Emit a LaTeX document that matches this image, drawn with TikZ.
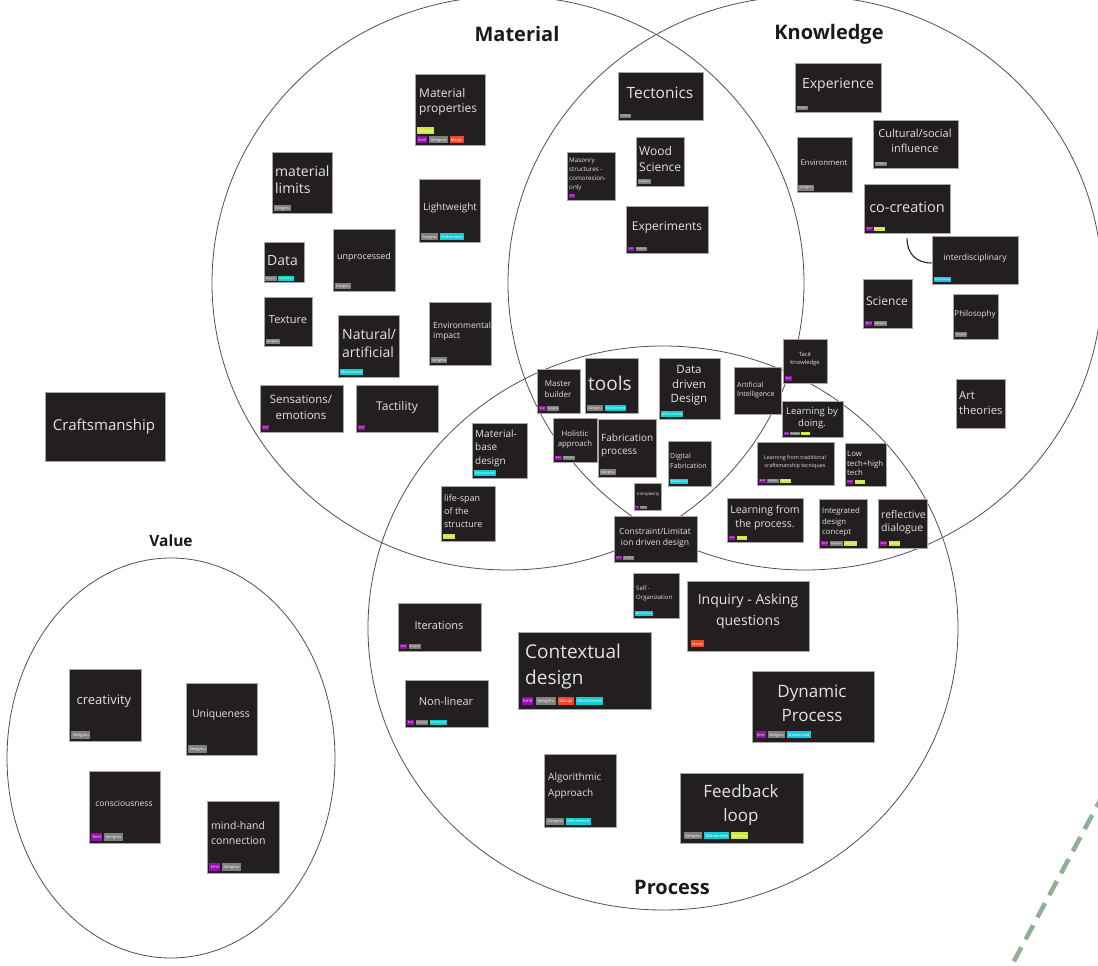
\documentclass[tikz,border=0pt]{standalone}
\usepackage{fontspec}
\setmainfont{Open Sans}
\usetikzlibrary{fit,calc}

\definecolor{notebg}{HTML}{231F20}
\definecolor{notefg}{HTML}{E3E3E3}
\definecolor{ringline}{HTML}{505050}
\definecolor{tgpurple}{HTML}{9510AC}
\definecolor{tggray}{HTML}{808080}
\definecolor{tgred}{HTML}{F24726}
\definecolor{tgcyan}{HTML}{12CDD4}
\definecolor{tglime}{HTML}{CEE741}
\definecolor{sage}{HTML}{8FB094}
\definecolor{titlefg}{HTML}{1A1A1A}

% author tags on the sticky notes
\newcommand\tg[2]{{\setlength{\fboxsep}{0pt}\colorbox{#1}{\rule[-0.5em]{0pt}{1.8em}\hspace{0.35em}\textcolor{white}{#2}\hspace{0.35em}}}\hspace{0.5em}}
\newcommand\tgEm{\tg{tgpurple}{Emil}}
\newcommand\tgGe{\tg{tggray}{Gengmu}}
\newcommand\tgMa{\tg{tgred}{Marija}}
\newcommand\tgMo{\tg{tgcyan}{Mohammed}}
\newcommand\tgSe{\tg{tglime}{Serenay}}

% sticky note: name, top-left, bottom-right
\newcommand\pnote[3]{\node[notebox, fit={#2 #3}] (#1) {};}
% note text: name, size, leading, style, position, text
\newcommand\ntxt[6]{\node[ntext, fs={#2}{#3}, #4] (#1-t) at #5 {#6};}
% tag row: name, size, margin, tags
\newcommand\ptags[4]{\node[tagrow, font=\fontsize{#2}{9}\selectfont] (#1-g) at ($(#1.south west)+(#3,-#3)$) {#4};}

\tikzset{
  notebox/.style={fill=notebg, draw=black!35, line width=0.6pt, inner sep=0pt},
  ntext/.style={text=notefg, inner sep=0pt, yshift=-1.3pt},
  fs/.style 2 args={font=\fontsize{#1}{#2}\selectfont},
  lt/.style={anchor=west, align=left},
  ct/.style={align=center},
  tagrow/.style={anchor=south west, inner sep=0pt, align=left},
  ring/.style={draw=ringline, line width=0.8pt},
  title/.style={text=titlefg, font=\bfseries\fontsize{20}{24}\selectfont},
  link/.style={draw=black!85, line width=1.1pt},
}

\begin{document}
\begin{tikzpicture}[x=1pt, y=-1pt]
\useasboundingbox (0,0) rectangle (1098,966);
\fill[white] (0,0) rectangle (1098,966);
\clip (0,0) rectangle (1098,966);

% the four fields
\draw[ring] (508,283) ellipse [x radius=296pt, y radius=287pt];
\draw[ring] (805,283) ellipse [x radius=297pt, y radius=287pt];
\draw[ring] (663,628) ellipse [x radius=295pt, y radius=282pt];
\draw[ring] (171,758) ellipse [x radius=164pt, y radius=200pt];

\node[title] (t-mat) at (517,34) {Material};
\node[title] (t-know) at (829,34) {Knowledge};
\node[title, font=\bfseries\fontsize{15.5}{18}\selectfont] (t-val) at (171,541) {Value};
\node[title] (t-proc) at (672,887) {Process};

% ---- Material
\pnote{matprop}{(415,74)}{(485,145)}
\ntxt{matprop}{12}{15.5}{lt}{(419,100.5)}{Material\\properties}
\ptags{matprop}{3.9}{2}{\tgSe\\\tgEm\tgGe\tgMa}

\pnote{matlim}{(272,152)}{(332,213)}
\ntxt{matlim}{14}{17}{lt}{(275,178.5)}{material\\limits}
\ptags{matlim}{3.6}{2}{\tgGe}

\pnote{light}{(419,179)}{(480,242)}
\ntxt{light}{10}{12}{ct}{(450,207)}{Lightweight}
\ptags{light}{3.7}{2}{\tgGe\tgMo}

\pnote{data}{(264,242)}{(304,282)}
\ntxt{data}{14}{17}{lt}{(267,259)}{Data}
\ptags{data}{2.5}{1.5}{\tgGe\tgMo}

\pnote{unproc}{(333,229)}{(395,291)}
\ntxt{unproc}{9}{11}{ct}{(364,256)}{unprocessed}
\ptags{unproc}{3.4}{2}{\tgGe}

\pnote{texture}{(264,297)}{(312,346)}
\ntxt{texture}{11}{13}{ct}{(288,318)}{Texture}
\ptags{texture}{3.0}{2}{\tgGe}

\pnote{natural}{(338,315)}{(399,377)}
\ntxt{natural}{14}{18}{lt}{(342,342)}{Natural/\\artificial}
\ptags{natural}{3.6}{2}{\tgMo}

\pnote{envimp}{(429,302)}{(491,365)}
\ntxt{envimp}{8.5}{10.5}{lt}{(433,330)}{Environmental\\impact}
\ptags{envimp}{3.5}{2}{\tgGe}

\pnote{sens}{(260,385)}{(343,432)}
\ntxt{sens}{11.5}{15.5}{ct}{(301,406)}{Sensations/\\emotions}
\ptags{sens}{2.5}{2.5}{\tgEm}

\pnote{tact}{(356,385)}{(438,432)}
\ntxt{tact}{12}{14}{ct}{(397,406)}{Tactility}
\ptags{tact}{2.5}{2.5}{\tgEm}

\pnote{craft}{(45,392)}{(165,461)}
\ntxt{craft}{15}{18}{ct}{(104,425)}{Craftsmanship}

% ---- Material and Knowledge
\pnote{tect}{(618,72)}{(703,120)}
\ntxt{tect}{15.5}{18}{ct}{(660,92)}{Tectonics}
\ptags{tect}{2.3}{2}{\tgGe}

\pnote{wood}{(636,137)}{(684,186)}
\ntxt{wood}{12}{16}{lt}{(639,158)}{Wood\\Science}
\ptags{wood}{2.7}{2}{\tgGe}

\pnote{mason}{(567,152)}{(615,200)}
\ntxt{mason}{6.3}{9}{lt}{(569,173)}{Masonry\\structures -\\comoresion-\\only}
\ptags{mason}{2.3}{2}{\tgEm}

\pnote{expts}{(626,206)}{(708,253)}
\ntxt{expts}{12}{14}{ct}{(667,226)}{Experiments}
\ptags{expts}{2.4}{2}{\tgEm\tgGe}

% ---- Knowledge
\pnote{expce}{(795,63)}{(881,112)}
\ntxt{expce}{14}{17}{ct}{(838,84)}{Experience}
\ptags{expce}{2.4}{2}{\tgGe}

\pnote{cult}{(873,120)}{(958,168)}
\ntxt{cult}{11}{15}{ct}{(915,140)}{Cultural/social\\influence}
\ptags{cult}{2.5}{2}{\tgGe}

\pnote{envir}{(797,137)}{(852,192)}
\ntxt{envir}{7.8}{9}{ct}{(824,161)}{Environment}
\ptags{envir}{3.3}{1.5}{\tgGe}

\pnote{cocre}{(864,184)}{(950,233)}
\ntxt{cocre}{14.5}{17}{ct}{(907,206)}{co-creation}
\ptags{cocre}{2.5}{2}{\tgEm\tgSe}

\pnote{interd}{(932,236)}{(1018,284)}
\ntxt{interd}{8.5}{10}{ct}{(975,257)}{interdisciplinary}
\ptags{interd}{2.7}{2}{\tgMo}

\draw[link] ($(cocre.south)+(0,5)$) .. controls +(0,15) and +(-16,0) .. ($(interd.west)+(0,3)$);

\pnote{sci}{(863,279)}{(912,328)}
\ntxt{sci}{12}{14}{ct}{(887,300)}{Science}
\ptags{sci}{2.8}{2}{\tgEm\tgGe}

\pnote{philo}{(953,294)}{(998,339)}
\ntxt{philo}{8}{10}{ct}{(975,313)}{Philosophy}
\ptags{philo}{2.6}{2}{\tgGe}

\pnote{tacit}{(783,339)}{(827,383)}
\ntxt{tacit}{5.8}{8}{ct}{(805,358)}{Tacit\\knowledge}
\ptags{tacit}{2.6}{2}{\tgEm}

\pnote{art}{(956,379)}{(1005,428)}
\ntxt{art}{11.3}{15}{lt}{(959,402)}{Art\\theories}

% ---- centre of the fields
\pnote{master}{(537,369)}{(580,413)}
\ntxt{master}{8}{11}{ct}{(558,388)}{Master\\builder}
\ptags{master}{2.6}{2}{\tgEm\tgGe}

\pnote{tools}{(585,358)}{(638,413)}
\ntxt{tools}{19}{22}{lt}{(588,382)}{tools}
\ptags{tools}{3.4}{2}{\tgGe\tgMo}

\pnote{ddd}{(659,358)}{(720,419)}
\ntxt{ddd}{11.5}{14.5}{ct}{(689,384)}{Data\\driven\\Design}
\ptags{ddd}{3.5}{2}{\tgMo}

\pnote{holis}{(553,418)}{(597,462)}
\ntxt{holis}{7.8}{10}{ct}{(575,438)}{Holistic\\approach}
\ptags{holis}{2.5}{2}{\tgEm\tgGe}

\pnote{fabproc}{(598,419)}{(656,477)}
\ntxt{fabproc}{10}{13}{lt}{(601,444)}{Fabrication\\process}
\ptags{fabproc}{3.4}{2}{\tgGe}

\pnote{matbase}{(472,423)}{(527,478)}
\ntxt{matbase}{10}{13.5}{lt}{(475,447)}{Material-\\base\\design}
\ptags{matbase}{3.4}{2}{\tgMo}

\pnote{digfab}{(668,441)}{(711,486)}
\ntxt{digfab}{7}{9.5}{lt}{(670,459.5)}{Digital\\Fabrication}
\ptags{digfab}{2.9}{2}{\tgMo}

\pnote{cplx}{(634,483)}{(661,510)}
\ntxt{cplx}{4.3}{5}{ct}{(648,493)}{Complexity}
\ptags{cplx}{1.5}{1.5}{\tgEm\tgGe}

\pnote{constr}{(614,516)}{(697,562)}
\ntxt{constr}{8.5}{11}{ct}{(655,536.5)}{Constraint/Limitat\\ion driven design}
\ptags{constr}{2.3}{2}{\tgEm\tgGe}

\pnote{life}{(441,486)}{(495,541)}
\ntxt{life}{9}{13}{lt}{(444,510)}{life-span\\of the\\structure}
\ptags{life}{2.8}{2}{\tgSe}

\pnote{ai}{(734,367)}{(781,414)}
\ntxt{ai}{7}{9}{lt}{(737,388.5)}{Artificial\\Intelligence}

\pnote{lbd}{(782,401)}{(843,437)}
\ntxt{lbd}{9.5}{12}{ct}{(812,417)}{Learning by\\doing.}
\ptags{lbd}{2.0}{2}{\tgEm\tgGe\tgSe}

\pnote{lftrad}{(757,442)}{(834,485)}
\ntxt{lftrad}{5.3}{8}{ct}{(795,461)}{Learning from traditional\\craftsmanship tecniques}
\ptags{lftrad}{2.5}{2}{\tgEm\tgGe\tgSe}

\pnote{lowtech}{(845,443)}{(886,486)}
\ntxt{lowtech}{7.8}{9.5}{lt}{(847,462)}{Low\\tech+high\\tech}
\ptags{lowtech}{2.4}{2}{\tgEm\tgSe}

\pnote{lfproc}{(727,498)}{(803,542)}
\ntxt{lfproc}{10.5}{14}{ct}{(765,516)}{Learning from\\the process.}
\ptags{lfproc}{2.4}{2}{\tgEm\tgSe}

\pnote{integr}{(819,499)}{(867,548)}
\ntxt{integr}{7.8}{10.5}{lt}{(822,521)}{Integrated\\design\\concept}
\ptags{integr}{2.8}{2}{\tgEm\tgGe\tgSe}

\pnote{reflect}{(878,499)}{(927,548)}
\ntxt{reflect}{10.5}{12.5}{lt}{(881,521)}{reflective\\dialogue}
\ptags{reflect}{2.7}{2}{\tgEm\tgSe}

% ---- Process
\pnote{selforg}{(633,573)}{(679,618)}
\ntxt{selforg}{6}{9}{lt}{(636,592.5)}{Self -\\Organization}
\ptags{selforg}{2.8}{2}{\tgMo}

\pnote{inquiry}{(687,581)}{(809,651)}
\ntxt{inquiry}{14}{21}{ct}{(748,610)}{Inquiry - Asking\\questions}
\ptags{inquiry}{3.7}{4}{\tgMa}

\pnote{iter}{(398,603)}{(481,651)}
\ntxt{iter}{11}{13}{ct}{(439,624)}{Iterations}
\ptags{iter}{2.7}{2}{\tgEm\tgGe}

\pnote{context}{(518,632)}{(651,709)}
\ntxt{context}{19}{26}{lt}{(525,665)}{Contextual\\design}
\ptags{context}{4.3}{4}{\tgEm\tgGe\tgMa\tgMo}

\pnote{nonlin}{(405,680)}{(488,727)}
\ntxt{nonlin}{11}{13}{ct}{(446,700)}{Non-linear}
\ptags{nonlin}{2.7}{2}{\tgEm\tgGe\tgMo}

\pnote{dynamic}{(752,671)}{(874,742)}
\ntxt{dynamic}{17}{24}{ct}{(812,702)}{Dynamic\\Process}
\ptags{dynamic}{3.7}{4}{\tgEm\tgGe\tgMo}

\pnote{algo}{(544,754)}{(616,827)}
\ntxt{algo}{10}{16}{lt}{(548,785)}{Algorithmic\\Approach}
\ptags{algo}{3.8}{2.5}{\tgGe\tgMo}

\pnote{feedback}{(680,773)}{(803,843)}
\ntxt{feedback}{17}{24}{ct}{(741,804)}{Feedback\\loop}
\ptags{feedback}{3.9}{4}{\tgGe\tgMo\tgSe}

% ---- Value
\pnote{creat}{(69,669)}{(141,741)}
\ntxt{creat}{13}{15}{ct}{(104,700)}{creativity}
\ptags{creat}{4.0}{2.5}{\tgGe}

\pnote{uniq}{(186,683)}{(257,755)}
\ntxt{uniq}{10.5}{12}{ct}{(221,714)}{Uniqueness}
\ptags{uniq}{4.0}{2.5}{\tgGe}

\pnote{consc}{(89,771)}{(160,843)}
\ntxt{consc}{8.5}{10}{ct}{(124,802)}{consciousness}
\ptags{consc}{4.0}{2.5}{\tgEm\tgGe}

\pnote{mindh}{(207,801)}{(279,873)}
\ntxt{mindh}{10.5}{15}{lt}{(211,831.5)}{mind-hand\\connection}
\ptags{mindh}{4.0}{2.5}{\tgEm\tgGe}

% dashed guide in the corner
\coordinate (g1) at (1104,793);
\coordinate (g2) at (1006,976);
\draw[sage, line width=4.5pt, dash pattern=on 16pt off 9pt] (g1) -- (g2);
\end{tikzpicture}
\end{document}
